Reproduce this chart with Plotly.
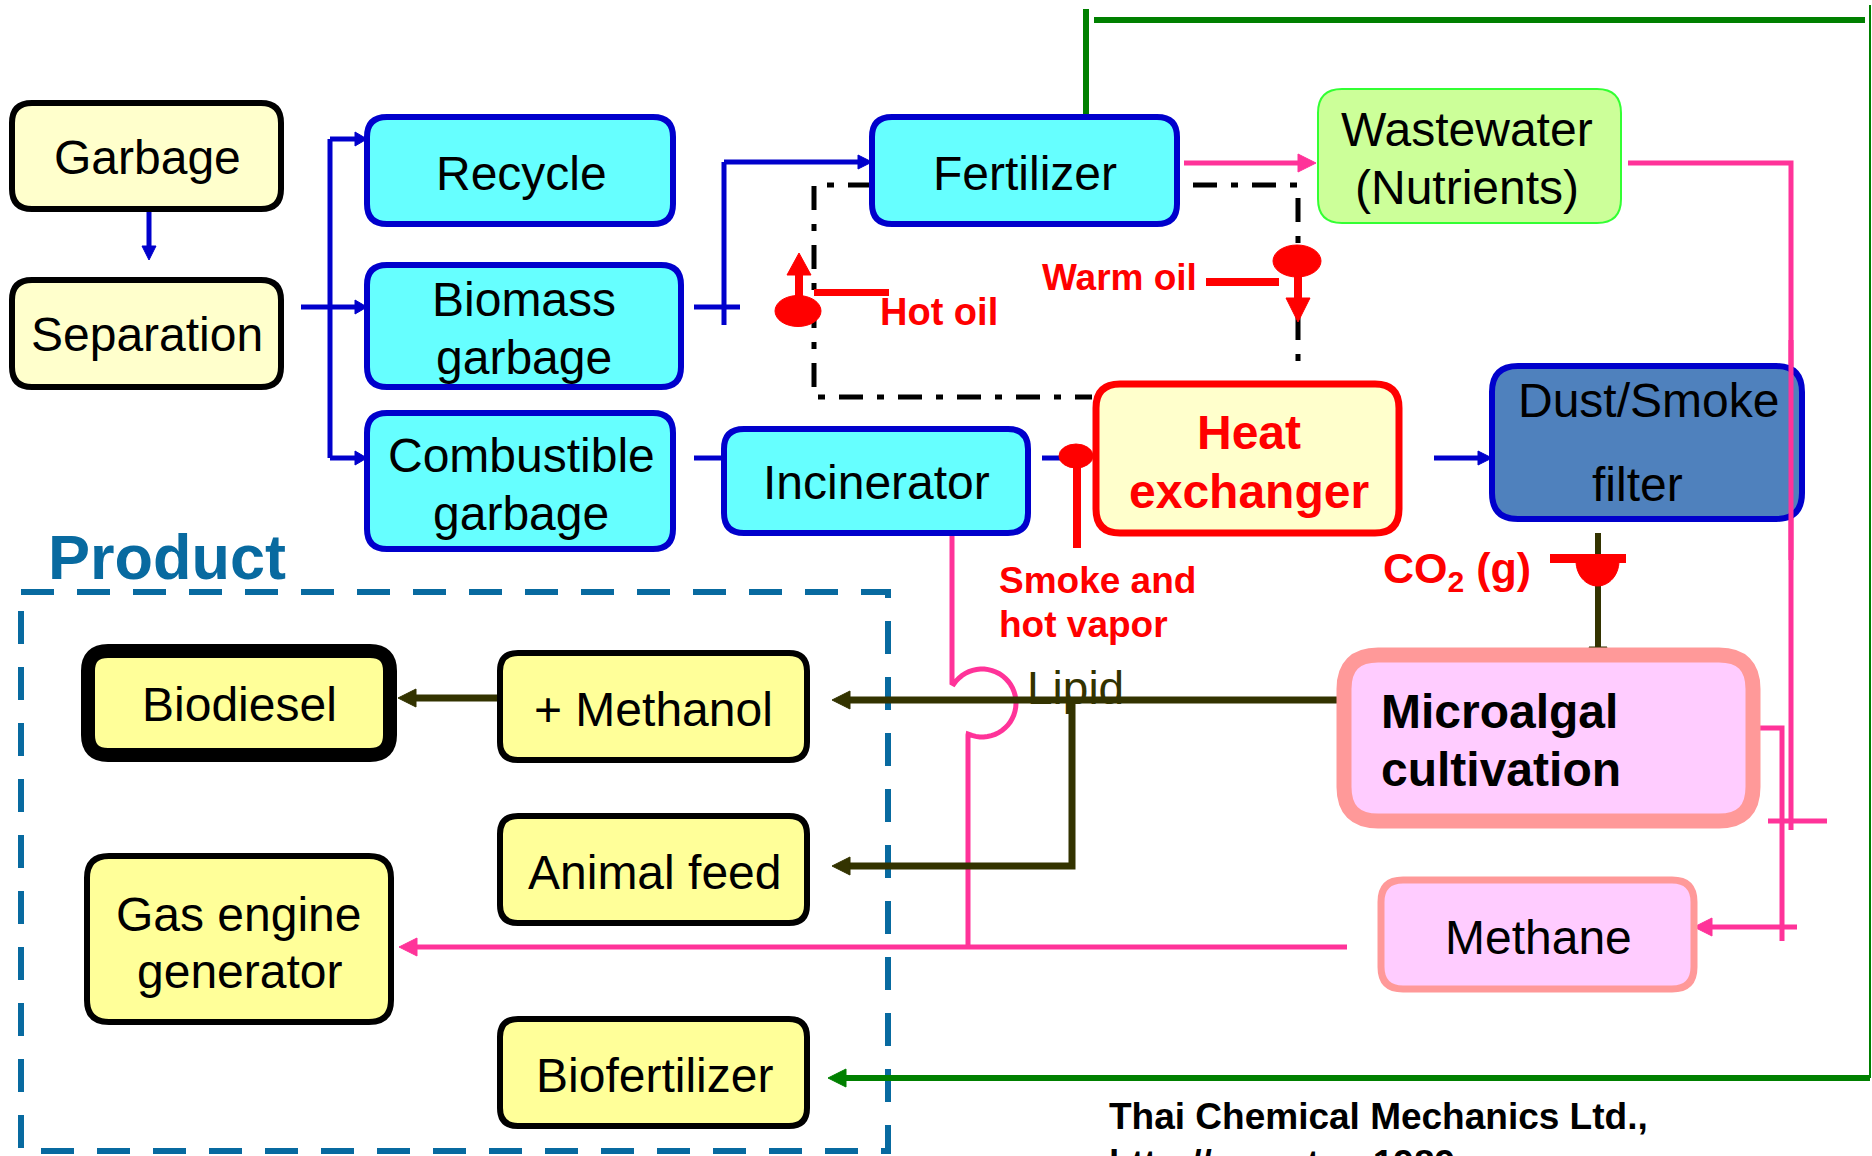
import numpy as np
import plotly.graph_objects as go

W, H = 1872, 1156
FONT = "Liberation Sans, Arial, sans-serif"

# ---------------- content (texts) ----------------
input_labels = ["Garbage", "Separation"]
sorting_labels = [["Recycle"], ["Biomass", "garbage"], ["Combustible", "garbage"]]
process_labels = [["Fertilizer"], ["Incinerator"]]
heat_label = ["Heat", "exchanger"]
filter_label = ["Dust/Smoke", "filter"]
water_label = ["Wastewater", "(Nutrients)"]
algae_label = ["Microalgal", "cultivation"]
methane_label = ["Methane"]
product_labels = [["Biodiesel"], ["+ Methanol"], ["Animal feed"], ["Gas engine", "generator"], ["Biofertilizer"]]
flow_labels = ["Hot oil", "Warm oil", "Smoke and", "hot vapor", "CO<sub>2</sub> (g)", "Lipid"]
section_title = "Product"
credit_lines = ["Thai Chemical Mechanics Ltd.,", "http://www.tcm1989.com"]

# ---------------- colours ----------------
BLUE = "#0000CC"
CYAN = "#66FFFF"
PINK = "#FF3399"
OLIVE = "#333300"
GREEN = "#008000"
RED = "#FF0000"
PALEY = "#FFFFCC"
YEL = "#FFFF99"
SALMON = "#FF9999"
LILAC = "#FFCCFF"
PBLUE = "#086AA0"

shapes = []
annots = []


def rrect(x0, y0, x1, y1, r, fill, line, lw):
    p = (f"M {x0+r},{y0} L {x1-r},{y0} Q {x1},{y0} {x1},{y0+r} "
         f"L {x1},{y1-r} Q {x1},{y1} {x1-r},{y1} L {x0+r},{y1} "
         f"Q {x0},{y1} {x0},{y1-r} L {x0},{y0+r} Q {x0},{y0} {x0+r},{y0} Z")
    shapes.append(dict(type="path", path=p, xref="x", yref="y", fillcolor=fill,
                       line=dict(color=line, width=lw), layer="above"))


def poly(pts, color, lw, dash=None):
    p = "M " + " L ".join(f"{x},{y}" for x, y in pts)
    ln = dict(color=color, width=lw)
    if dash:
        ln["dash"] = dash
    shapes.append(dict(type="path", path=p, xref="x", yref="y",
                       line=ln, fillcolor="rgba(0,0,0,0)", layer="above"))


def head(tip, frm, length, width, color):
    tip = np.array(tip, float)
    frm = np.array(frm, float)
    u = (tip - frm) / np.linalg.norm(tip - frm)
    n = np.array([-u[1], u[0]])
    b = tip - u * length
    a1 = b + n * width / 2
    a2 = b - n * width / 2
    p = f"M {tip[0]},{tip[1]} L {a1[0]},{a1[1]} L {a2[0]},{a2[1]} Z"
    shapes.append(dict(type="path", path=p, xref="x", yref="y", fillcolor=color,
                       line=dict(color=color, width=1), layer="above"))


def arrow(pts, color, lw, hl, hw):
    tip = pts[-1]
    prev = pts[-2]
    u = np.array(tip, float) - np.array(prev, float)
    u = u / np.linalg.norm(u)
    end = (tip[0] - u[0] * hl * 0.8, tip[1] - u[1] * hl * 0.8)
    poly(list(pts[:-1]) + [end], color, lw)
    head(tip, prev, hl, hw, color)


def ellipse(cx, cy, rx, ry, color):
    shapes.append(dict(type="circle", x0=cx-rx, x1=cx+rx, y0=cy-ry, y1=cy+ry,
                       xref="x", yref="y", fillcolor=color,
                       line=dict(color=color, width=1), layer="above"))


def text(x, y, s, size, color="black", bold=False, xanchor="center", yanchor="middle"):
    if bold:
        s = f"<b>{s}</b>"
    annots.append(dict(x=x, y=y, text=s, xref="x", yref="y", showarrow=False,
                       xanchor=xanchor, yanchor=yanchor,
                       font=dict(family=FONT, size=size, color=color)))


def lines_in(cx, cys, labels, size, color="black", bold=False, xanchor="center"):
    for cy, s in zip(cys, labels):
        text(cx, cy, s, size, color, bold, xanchor)


# ---------------- product dashed frame ----------------
shapes.append(dict(type="rect", x0=21, x1=888, y0=592, y1=1151, xref="x", yref="y",
                   line=dict(color=PBLUE, width=6, dash="33px,23px"),
                   fillcolor="rgba(0,0,0,0)", layer="above"))

# ---------------- connectors ----------------
# blue flows
arrow([(149, 209), (149, 260)], BLUE, 5, 14, 14)
poly([(301, 307), (330, 307)], BLUE, 5)
poly([(330, 139), (330, 458)], BLUE, 5)
arrow([(330, 139), (367, 139)], BLUE, 5, 12, 14)
arrow([(330, 307), (367, 307)], BLUE, 5, 12, 14)
arrow([(330, 458), (367, 458)], BLUE, 5, 12, 14)
poly([(694, 307), (740, 307)], BLUE, 5)
poly([(724, 325), (724, 162)], BLUE, 5)
arrow([(724, 162), (872, 162)], BLUE, 5, 14, 14)
poly([(694, 458), (724, 458)], BLUE, 5)
poly([(1042, 458), (1070, 458)], BLUE, 5)
arrow([(1434, 458), (1492, 458)], BLUE, 5, 14, 14)

# dash-dot oil loop
DD = "24px,14px,7px,14px"
poly([(872, 185), (814, 185), (814, 397), (1092, 397)], "black", 5, DD)
poly([(1193, 185), (1298, 185), (1298, 367)], "black", 5, DD)

# green biofertilizer loop
poly([(1086, 9), (1086, 117)], GREEN, 6)
poly([(1094, 20), (1865, 20)], GREEN, 6)
poly([(1870, 5), (1870, 1078)], GREEN, 2)
arrow([(1870, 1078), (828, 1078)], GREEN, 6, 18, 18)

# pink flows
arrow([(1184, 163), (1316, 163)], PINK, 5, 18, 18)
poly([(1628, 163), (1791, 163), (1791, 830)], PINK, 5)
poly([(1768, 821), (1827, 821)], PINK, 5)
poly([(1753, 728), (1782, 728), (1782, 941)], PINK, 5)
arrow([(1797, 927), (1694, 927)], PINK, 5, 18, 18)
arrow([(1347, 947), (399, 947)], PINK, 5, 18, 18)
ang = np.deg2rad(np.linspace(-146, 114, 40))
arc = [(982 + 34 * np.cos(a), 703 + 34 * np.sin(a)) for a in ang]
poly([(952, 533), (952, 683)] + arc + [(968, 735), (968, 947)], PINK, 5)

# olive lipid flows
arrow([(1598, 533), (1598, 665)], OLIVE, 6, 18, 18)
arrow([(1343, 700), (832, 700)], OLIVE, 7, 18, 18)
arrow([(1072, 700), (1072, 866), (832, 866)], OLIVE, 7, 18, 18)
arrow([(500, 698), (398, 698)], OLIVE, 7, 18, 18)

# ---------------- boxes ----------------
rrect(12, 103, 281, 209, 20, PALEY, "black", 6)
rrect(12, 280, 281, 387, 20, PALEY, "black", 6)
rrect(367, 117, 673, 224, 20, CYAN, BLUE, 6)
rrect(367, 265, 681, 387, 20, CYAN, BLUE, 6)
rrect(367, 413, 673, 549, 20, CYAN, BLUE, 6)
rrect(872, 117, 1177, 224, 20, CYAN, BLUE, 6)
rrect(724, 429, 1028, 533, 20, CYAN, BLUE, 6)
rrect(1318, 89, 1621, 223, 24, "#CCFF99", "#33FF33", 2)
rrect(1096, 384, 1399, 533, 24, PALEY, RED, 7)
rrect(1492, 366, 1802, 519, 26, "#4F81BD", BLUE, 6)
rrect(1344, 655, 1753, 821, 34, LILAC, SALMON, 15)
rrect(1381, 880, 1694, 989, 22, LILAC, SALMON, 7)
rrect(88, 651, 390, 755, 20, YEL, "black", 14)
rrect(500, 653, 807, 760, 18, YEL, "black", 6)
rrect(500, 816, 807, 923, 18, YEL, "black", 6)
rrect(87, 856, 391, 1022, 22, YEL, "black", 6)
rrect(500, 1019, 807, 1126, 18, YEL, "black", 6)

# pink line drawn over filter box edge
poly([(1791, 340), (1791, 560)], PINK, 5)

# ---------------- red oil / smoke markers ----------------
poly([(799, 311), (799, 272)], RED, 8)
head((799, 253), (799, 300), 22, 24, RED)
ellipse(798, 311, 23, 15.5, RED)
poly([(814, 292.5), (889, 292.5)], RED, 7)

poly([(1298, 261), (1298, 302)], RED, 8)
head((1298, 322), (1298, 280), 24, 24, RED)
ellipse(1297, 261, 24, 16, RED)
poly([(1206, 282), (1279, 282)], RED, 8)

poly([(1077, 456), (1077, 548)], RED, 8)
ellipse(1076, 456, 17, 12, RED)

ang2 = np.deg2rad(np.linspace(0, 180, 30))
half = [(1597.5 + 21.5 * np.cos(a), 561 + 25 * np.sin(a)) for a in ang2]
shapes.append(dict(type="path", path="M " + " L ".join(f"{x},{y}" for x, y in half) + " Z",
                   xref="x", yref="y", fillcolor=RED, line=dict(color=RED, width=1), layer="above"))
poly([(1550, 558.5), (1626, 558.5)], RED, 9)

# ---------------- texts ----------------
BS = 48
text(147, 157, input_labels[0], BS)
text(147, 334, input_labels[1], BS)
lines_in(521, [173], sorting_labels[0], BS)
lines_in(524, [299, 357], sorting_labels[1], BS)
lines_in(521, [455, 513], sorting_labels[2], BS)
lines_in(1025, [173], process_labels[0], BS)
lines_in(876, [482], process_labels[1], BS)
lines_in(1467, [129, 187], water_label, BS)
lines_in(1249, [432, 491], heat_label, 48, RED, True)
text(1648, 400, filter_label[0], BS)
text(1637, 484, filter_label[1], BS)
lines_in(1379, [711, 769], algae_label, 48, "black", True, "left")
lines_in(1538, [937], methane_label, BS)
lines_in(239, [704], product_labels[0], BS)
lines_in(653, [709], product_labels[1], BS)
lines_in(654, [872], product_labels[2], BS)
lines_in(239, [914, 971], product_labels[3], BS)
lines_in(654, [1075], product_labels[4], BS)

text(878, 312, flow_labels[0], 38, RED, True, "left")
text(1040, 277, flow_labels[1], 37, RED, True, "left")
text(997, 580, flow_labels[2], 37, RED, True, "left")
text(997, 624, flow_labels[3], 37, RED, True, "left")
text(1381, 571, flow_labels[4], 43, RED, True, "left")
text(1025, 688, flow_labels[5], 46, OLIVE, False, "left")

text(46, 557, section_title, 63, PBLUE, True, "left")
text(1107, 1116, credit_lines[0], 37, "black", True, "left")
text(1107, 1141, credit_lines[1], 37, "black", True, "left", "top")

fig = go.Figure()
fig.update_layout(
    width=W, height=H, margin=dict(l=0, r=0, t=0, b=0),
    paper_bgcolor="white", plot_bgcolor="white",
    xaxis=dict(range=[0, W], visible=False, fixedrange=True),
    yaxis=dict(range=[H, 0], visible=False, fixedrange=True),
    shapes=shapes, annotations=annots, showlegend=False,
)
fig.write_html("out.html", config={"displayModeBar": False},
               post_script="document.body.style.margin='0';document.body.style.overflow='hidden';")
